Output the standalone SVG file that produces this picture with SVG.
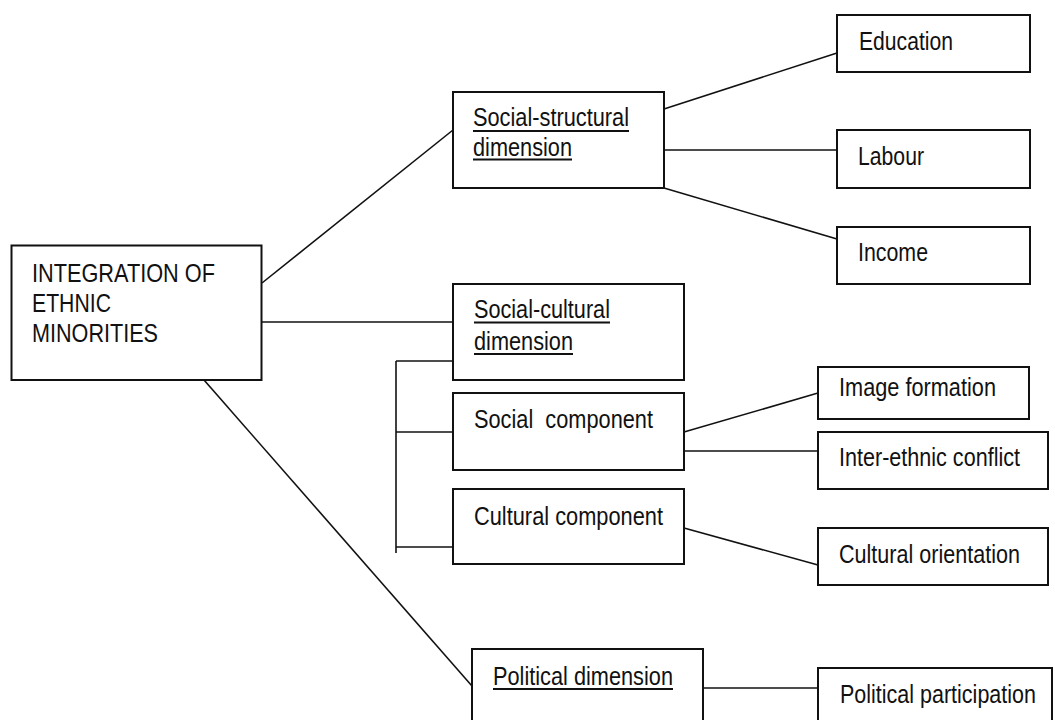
<svg xmlns="http://www.w3.org/2000/svg" width="1055" height="720" viewBox="0 0 1055 720">
<style>
  .box { fill: #fff; stroke: #111; stroke-width: 2; }
  .t { font-family: "Liberation Sans", Arial, sans-serif; font-size: 26px; fill: #111; }
  .ul { stroke: #111; stroke-width: 2; }
  #connectors line { stroke: #111; stroke-width: 1.6; fill: none; }
</style>
<rect width="1055" height="720" fill="#fff"/>
<g id="connectors">
  <line x1="262" y1="283" x2="453" y2="130"/>
  <line x1="262" y1="322" x2="453" y2="322"/>
  <line x1="204" y1="380" x2="472" y2="686"/>
  <line x1="664" y1="109" x2="837" y2="53"/>
  <line x1="664" y1="150" x2="837" y2="150"/>
  <line x1="664" y1="188" x2="837" y2="239"/>
  <line x1="396" y1="361" x2="396" y2="553"/>
  <line x1="396" y1="361" x2="453" y2="361"/>
  <line x1="396" y1="432" x2="453" y2="432"/>
  <line x1="396" y1="547" x2="453" y2="547"/>
  <line x1="684" y1="432" x2="818" y2="393"/>
  <line x1="684" y1="451" x2="818" y2="451"/>
  <line x1="684" y1="528" x2="818" y2="565"/>
  <line x1="703" y1="688" x2="818" y2="688"/>
</g>
<g id="integration">
  <rect class="box" x="11.5" y="245.5" width="250" height="134.5"/>
  <text class="t" transform="scale(0.82 1)" x="39.02" y="282" textLength="223.17" lengthAdjust="spacingAndGlyphs">INTEGRATION OF</text>
  <text class="t" transform="scale(0.82 1)" x="39.02" y="312" textLength="96.34" lengthAdjust="spacingAndGlyphs">ETHNIC</text>
  <text class="t" transform="scale(0.82 1)" x="39.02" y="342" textLength="153.66" lengthAdjust="spacingAndGlyphs">MINORITIES</text>
</g>
<g id="social-structural">
  <rect class="box" x="453" y="92" width="211" height="96"/>
  <text class="t" transform="scale(0.82 1)" x="576.83" y="126.5" textLength="190.24" lengthAdjust="spacingAndGlyphs">Social-structural</text>
  <line class="ul" x1="473" y1="131" x2="629" y2="131"/>
  <text class="t" transform="scale(0.82 1)" x="576.83" y="156" textLength="120.73" lengthAdjust="spacingAndGlyphs">dimension</text>
  <line class="ul" x1="473" y1="159.5" x2="572" y2="159.5"/>
</g>
<g id="education">
  <rect class="box" x="837" y="15" width="193" height="57"/>
  <text class="t" transform="scale(0.82 1)" x="1047.56" y="50.5" textLength="114.63" lengthAdjust="spacingAndGlyphs">Education</text>
</g>
<g id="labour">
  <rect class="box" x="837" y="130" width="193" height="58"/>
  <text class="t" transform="scale(0.82 1)" x="1046.34" y="165.5" textLength="80.49" lengthAdjust="spacingAndGlyphs">Labour</text>
</g>
<g id="income">
  <rect class="box" x="837" y="227" width="193" height="57"/>
  <text class="t" transform="scale(0.82 1)" x="1046.34" y="261.5" textLength="85.37" lengthAdjust="spacingAndGlyphs">Income</text>
</g>
<g id="social-cultural">
  <rect class="box" x="453" y="284" width="231" height="96"/>
  <text class="t" transform="scale(0.82 1)" x="578.05" y="318" textLength="165.85" lengthAdjust="spacingAndGlyphs">Social-cultural</text>
  <line class="ul" x1="474" y1="322.5" x2="610" y2="322.5"/>
  <text class="t" transform="scale(0.82 1)" x="578.05" y="350" textLength="120.73" lengthAdjust="spacingAndGlyphs">dimension</text>
  <line class="ul" x1="474" y1="354" x2="573" y2="354"/>
</g>
<g id="social-component">
  <rect class="box" x="453" y="393" width="231" height="77"/>
  <text class="t" transform="scale(0.82 1)" x="578.05" y="428" textLength="218.29" lengthAdjust="spacingAndGlyphs" xml:space="preserve">Social  component</text>
</g>
<g id="cultural-component">
  <rect class="box" x="453" y="489" width="231" height="75"/>
  <text class="t" transform="scale(0.82 1)" x="578.05" y="525" textLength="230.49" lengthAdjust="spacingAndGlyphs">Cultural component</text>
</g>
<g id="image-formation">
  <rect class="box" x="818" y="367" width="211" height="52"/>
  <text class="t" transform="scale(0.82 1)" x="1023.17" y="396.5" textLength="191.46" lengthAdjust="spacingAndGlyphs">Image formation</text>
</g>
<g id="inter-ethnic">
  <rect class="box" x="818" y="432" width="230" height="57"/>
  <text class="t" transform="scale(0.82 1)" x="1023.17" y="466.5" textLength="220.73" lengthAdjust="spacingAndGlyphs">Inter-ethnic conflict</text>
</g>
<g id="cultural-orientation">
  <rect class="box" x="818" y="528" width="230" height="57"/>
  <text class="t" transform="scale(0.82 1)" x="1023.17" y="563" textLength="220.73" lengthAdjust="spacingAndGlyphs">Cultural orientation</text>
</g>
<g id="political-dimension">
  <rect class="box" x="472" y="649" width="231" height="80"/>
  <text class="t" transform="scale(0.82 1)" x="601.22" y="685" textLength="219.51" lengthAdjust="spacingAndGlyphs">Political dimension</text>
  <line class="ul" x1="493" y1="689" x2="673" y2="689"/>
</g>
<g id="political-participation">
  <rect class="box" x="818" y="668" width="234" height="60"/>
  <text class="t" transform="scale(0.82 1)" x="1024.39" y="703" textLength="239.02" lengthAdjust="spacingAndGlyphs">Political participation</text>
</g>
</svg>
